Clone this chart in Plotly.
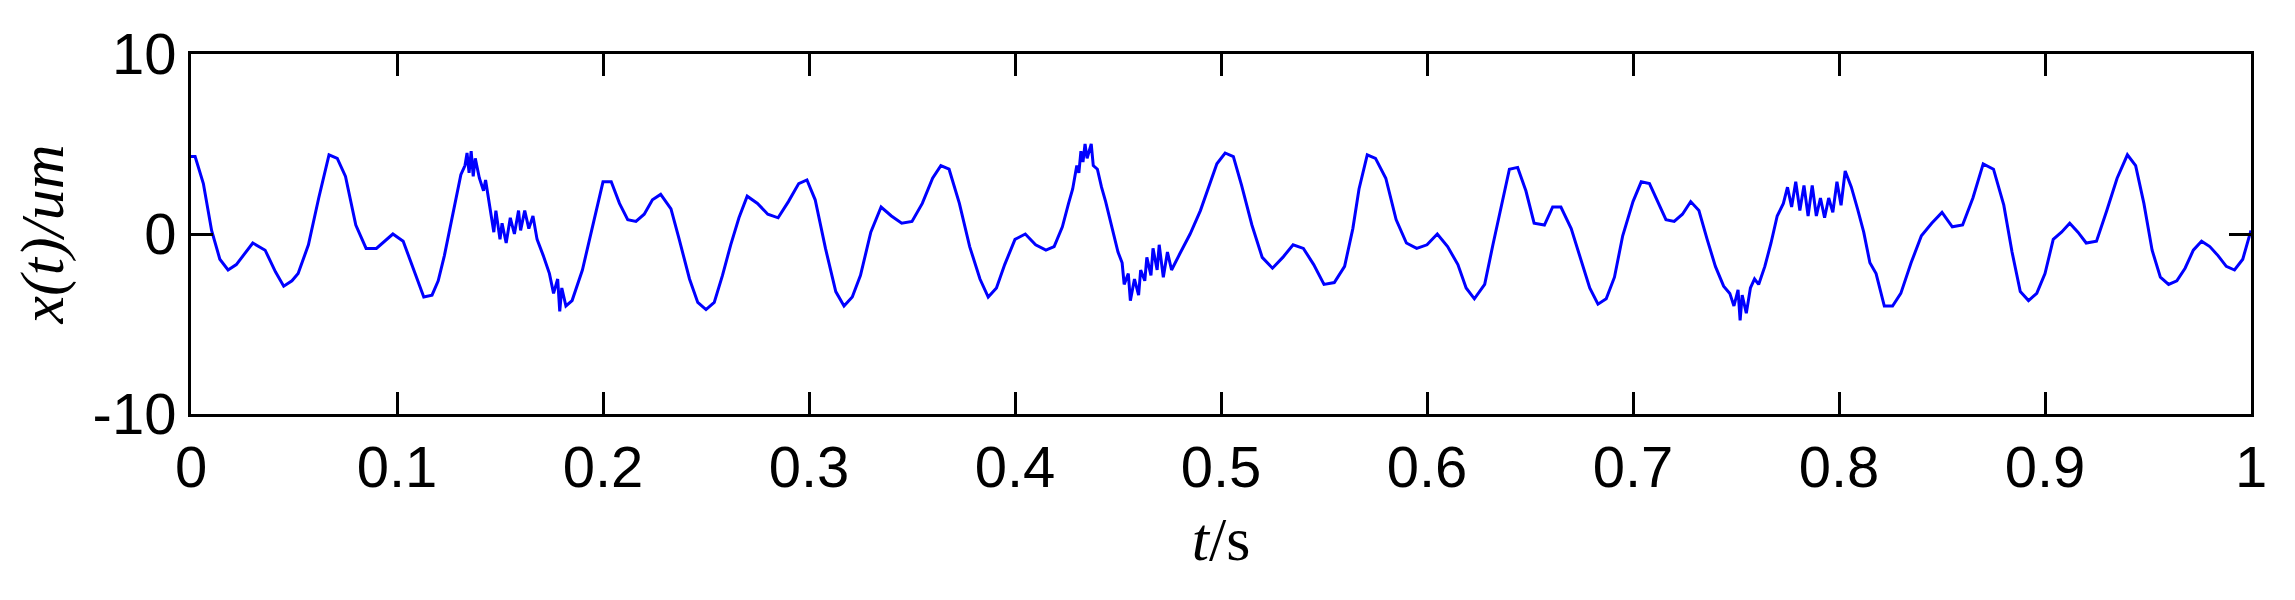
import plotly.graph_objects as go

t = [0.0, 0.002, 0.006, 0.01, 0.014, 0.018, 0.022, 0.026, 0.03, 0.036, 0.041, 0.045, 0.049, 0.052, 0.057, 0.062, 0.067, 0.071, 0.075, 0.08, 0.085, 0.09, 0.094, 0.098, 0.103, 0.108, 0.113, 0.117, 0.12, 0.123, 0.126, 0.129, 0.131, 0.133, 0.134, 0.135, 0.136, 0.137, 0.138, 0.14, 0.142, 0.143, 0.145, 0.147, 0.148, 0.15, 0.151, 0.153, 0.155, 0.157, 0.159, 0.16, 0.162, 0.164, 0.166, 0.168, 0.171, 0.174, 0.176, 0.178, 0.179, 0.18, 0.182, 0.185, 0.19, 0.195, 0.2, 0.204, 0.208, 0.212, 0.216, 0.22, 0.224, 0.228, 0.233, 0.237, 0.242, 0.246, 0.25, 0.254, 0.258, 0.262, 0.266, 0.27, 0.275, 0.28, 0.285, 0.29, 0.295, 0.299, 0.303, 0.308, 0.313, 0.317, 0.321, 0.325, 0.33, 0.335, 0.34, 0.345, 0.35, 0.355, 0.36, 0.364, 0.368, 0.373, 0.378, 0.383, 0.387, 0.391, 0.395, 0.4, 0.405, 0.41, 0.415, 0.419, 0.423, 0.426, 0.428, 0.43, 0.431, 0.432, 0.433, 0.434, 0.435, 0.437, 0.438, 0.44, 0.442, 0.444, 0.446, 0.448, 0.45, 0.452, 0.453, 0.455, 0.456, 0.458, 0.46, 0.461, 0.463, 0.464, 0.466, 0.467, 0.469, 0.47, 0.472, 0.474, 0.476, 0.48, 0.485, 0.49, 0.494, 0.498, 0.502, 0.506, 0.51, 0.515, 0.52, 0.525, 0.53, 0.535, 0.54, 0.545, 0.55, 0.555, 0.56, 0.564, 0.567, 0.571, 0.575, 0.58, 0.585, 0.59, 0.595, 0.6, 0.605, 0.61, 0.615, 0.619, 0.623, 0.628, 0.632, 0.636, 0.64, 0.644, 0.648, 0.652, 0.657, 0.661, 0.665, 0.67, 0.675, 0.679, 0.683, 0.687, 0.691, 0.695, 0.7, 0.704, 0.708, 0.712, 0.716, 0.72, 0.724, 0.728, 0.732, 0.736, 0.74, 0.744, 0.747, 0.749, 0.751, 0.752, 0.753, 0.755, 0.757, 0.759, 0.761, 0.764, 0.767, 0.77, 0.773, 0.775, 0.777, 0.779, 0.781, 0.783, 0.785, 0.787, 0.789, 0.791, 0.793, 0.795, 0.797, 0.799, 0.801, 0.803, 0.806, 0.809, 0.812, 0.815, 0.818, 0.822, 0.826, 0.83, 0.835, 0.84, 0.845, 0.85, 0.855, 0.86, 0.865, 0.87, 0.875, 0.88, 0.884, 0.888, 0.892, 0.896, 0.9, 0.904, 0.908, 0.912, 0.916, 0.92, 0.925, 0.93, 0.935, 0.94, 0.944, 0.948, 0.952, 0.956, 0.96, 0.964, 0.968, 0.972, 0.976, 0.98, 0.984, 0.988, 0.992, 0.996, 1.0]

x = [4.3, 4.3, 2.8, 0.2, -1.4, -2.0, -1.7, -1.1, -0.5, -0.9, -2.1, -2.9, -2.6, -2.2, -0.6, 2.0, 4.4, 4.2, 3.2, 0.5, -0.8, -0.8, -0.4, 0.0, -0.4, -1.9, -3.5, -3.4, -2.6, -1.2, 0.5, 2.2, 3.3, 3.8, 4.5, 3.4, 4.6, 3.2, 4.2, 3.1, 2.4, 3.0, 1.5, 0.1, 1.3, -0.3, 0.6, -0.5, 0.9, 0.0, 1.3, 0.2, 1.3, 0.3, 1.0, -0.3, -1.2, -2.2, -3.3, -2.5, -4.3, -3.0, -4.0, -3.7, -2.0, 0.5, 2.9, 2.9, 1.7, 0.8, 0.7, 1.1, 1.9, 2.2, 1.4, -0.3, -2.5, -3.8, -4.2, -3.8, -2.3, -0.6, 0.9, 2.1, 1.7, 1.1, 0.9, 1.8, 2.8, 3.0, 1.9, -0.8, -3.2, -4.0, -3.5, -2.3, 0.1, 1.5, 1.0, 0.6, 0.7, 1.7, 3.1, 3.8, 3.6, 1.7, -0.7, -2.5, -3.5, -3.0, -1.7, -0.3, 0.0, -0.6, -0.9, -0.7, 0.4, 1.7, 2.5, 3.8, 3.4, 4.6, 4.0, 5.0, 4.2, 5.0, 3.8, 3.6, 2.6, 1.8, 0.9, 0.0, -1.0, -1.6, -2.8, -2.2, -3.7, -2.5, -3.4, -2.0, -2.6, -1.3, -2.3, -0.8, -2.0, -0.6, -2.4, -1.0, -2.0, -1.1, 0.0, 1.3, 2.6, 3.9, 4.5, 4.3, 2.7, 0.5, -1.3, -1.9, -1.3, -0.6, -0.8, -1.7, -2.8, -2.7, -1.8, 0.3, 2.5, 4.4, 4.2, 3.1, 0.8, -0.5, -0.8, -0.6, 0.0, -0.7, -1.7, -3.0, -3.6, -2.8, -0.6, 1.6, 3.6, 3.7, 2.4, 0.6, 0.5, 1.5, 1.5, 0.3, -1.6, -3.0, -3.9, -3.6, -2.4, -0.1, 1.8, 2.9, 2.8, 1.8, 0.8, 0.7, 1.1, 1.8, 1.3, -0.3, -1.8, -2.9, -3.3, -4.0, -3.1, -4.8, -3.4, -4.4, -3.0, -2.5, -2.8, -1.8, -0.5, 1.0, 1.7, 2.6, 1.5, 2.9, 1.3, 2.7, 1.0, 2.7, 1.0, 2.0, 0.9, 2.0, 1.2, 2.9, 1.6, 3.5, 2.6, 1.4, 0.1, -1.6, -2.2, -4.0, -4.0, -3.3, -1.6, -0.1, 0.6, 1.2, 0.4, 0.5, 2.0, 3.9, 3.6, 1.6, -1.0, -3.2, -3.7, -3.3, -2.2, -0.3, 0.1, 0.6, 0.1, -0.5, -0.4, 1.3, 3.1, 4.4, 3.8, 1.7, -0.9, -2.4, -2.8, -2.6, -1.9, -0.9, -0.4, -0.7, -1.2, -1.8, -2.0, -1.4, 0.2, 2.6, 4.5]

fig = go.Figure(go.Scatter(x=t, y=x, mode="lines", line=dict(color="#0000ff", width=3), showlegend=False))

axis_common = dict(showline=True, linecolor="black", linewidth=3, mirror="ticks",
                   ticks="inside", ticklen=22, tickwidth=3, tickcolor="black",
                   showgrid=False, zeroline=False,
                   tickfont=dict(family="Liberation Sans, Arial", size=58, color="black"))

fig.update_xaxes(range=[0, 1], tickvals=[0, 0.1, 0.2, 0.3, 0.4, 0.5, 0.6, 0.7, 0.8, 0.9, 1.0],
                 ticktext=["0", "0.1", "0.2", "0.3", "0.4", "0.5", "0.6", "0.7", "0.8", "0.9", "1"],
                 title=dict(text="<i>t</i>/s", font=dict(family="Liberation Serif, Times New Roman", size=62, color="black"), standoff=20),
                 **axis_common)
fig.update_yaxes(range=[-10, 10], tickvals=[-10, 0, 10], ticktext=["-10", "0", "10"],
                 title=dict(text="<i>x(t)/um</i>", font=dict(family="Liberation Serif, Times New Roman", size=62, color="black"), standoff=10),
                 **axis_common)

fig.update_layout(width=2295, height=600, margin=dict(l=183, r=52, t=46, b=194),
                  plot_bgcolor="white", paper_bgcolor="white")

fig.write_html("out.html")
